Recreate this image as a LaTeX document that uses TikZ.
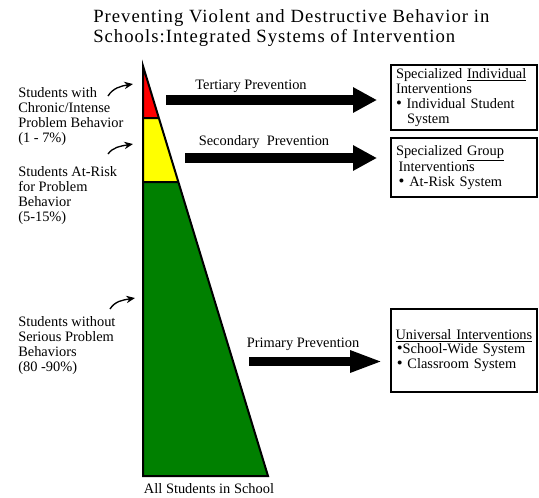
\documentclass[tikz,border=0pt]{standalone}
\usepackage{fontspec}
\setmainfont{Liberation Serif}
\newfontfamily\titlefont[LetterSpace=5.5]{Liberation Serif}
\usepackage{xcolor}
\usetikzlibrary{arrows.meta,calc}

\definecolor{tierred}{RGB}{255,0,0}
\definecolor{tieryellow}{RGB}{255,255,0}
\definecolor{tiergreen}{RGB}{0,128,0}
\newcommand{\bigbullet}{\smash{\fontsize{12.5}{11}\selectfont\textbullet}}

\begin{document}
\begin{tikzpicture}[x=0.75pt,y=-0.75pt,
    every node/.style={font=\fontsize{10.8}{11.2}\selectfont,inner sep=0pt},
    grouptext/.style={anchor=north west,align=left},
    pointer/.style={line width=1pt,-{Stealth[length=6.5pt,width=5.5pt]}},
    bigarrow/.style={line width=7.5pt},
    box/.style={draw,line width=1.5pt,align=left,text width=102pt,inner xsep=3.75pt,minimum width=109.5pt}]
    \useasboundingbox (0,0) rectangle (539,497);
    % title
    \node[anchor=north west,align=left,font=\titlefont\fontsize{14}{15}\selectfont] (title) at (93,9)
        {Preventing Violent and Destructive Behavior in\\Schools:Integrated Systems of Intervention};
    % triangle
    \coordinate (apex) at (143,66);
    \coordinate (baseL) at (143,476);
    \coordinate (baseR) at (268,476);
    \coordinate (redL) at (143,118);
    \coordinate (redR) at ($(apex)!0.127!(baseR)$);
    \coordinate (yelL) at (143,182);
    \coordinate (yelR) at ($(apex)!0.283!(baseR)$);
    \fill[tierred] (apex) -- (redR) -- (redL) -- cycle;
    \fill[tieryellow] (redL) -- (redR) -- (yelR) -- (yelL) -- cycle;
    \fill[tiergreen] (yelL) -- (yelR) -- (baseR) -- (baseL) -- cycle;
    \draw[line width=1.5pt] (apex) -- (baseR) -- (baseL) -- cycle;
    \draw[line width=1.5pt] (redL) -- (redR) (yelL) -- (yelR);
    \node (allstudents) at (209,489) {All Students in School};
    % groups of students
    \node[grouptext] (chronic) at (18,87) {Students with\\Chronic/Intense\\Problem Behavior\\(1 - 7\%)};
    \node[grouptext] (atrisk) at (18,166) {Students At-Risk\\for Problem\\Behavior\\(5-15\%)};
    \node[grouptext] (noproblem) at (18,316) {Students without\\Serious Problem\\Behaviors\\(80 -90\%)};
    % pointers
    \coordinate (chronicS) at (108,96);  \coordinate (chronicE) at (133,84);
    \coordinate (atriskS) at (108,154);  \coordinate (atriskE) at (133,144);
    \coordinate (noprobS) at (110,309);  \coordinate (noprobE) at (135,298);
    \draw[pointer] (chronicS) .. controls (113,88) and (121,86) .. (chronicE);
    \draw[pointer] (atriskS) .. controls (113,147) and (121,146) .. (atriskE);
    \draw[pointer] (noprobS) .. controls (115,301) and (123,300) .. (noprobE);
    % prevention arrows
    \coordinate (tertS) at (166,100);  \coordinate (tertE) at (377,100);
    \coordinate (secS) at (185,158);   \coordinate (secE) at (377,158);
    \coordinate (primS) at (249,361.5); \coordinate (primE) at (383,361.5);
    \draw[bigarrow,-{Triangle[length=18pt,width=18pt]}] (tertS) -- (tertE);
    \draw[bigarrow,-{Triangle[length=18pt,width=18pt]}] (secS) -- (secE);
    \draw[bigarrow,line width=6.75pt,-{Triangle[length=24.75pt,width=15pt]}] (primS) -- (primE);
    \node (tertlbl) at (251,86) {Tertiary Prevention};
    \node (seclbl) at (264,142) {Secondary\ \ Prevention};
    \node (primlbl) at (303,344) {Primary Prevention};
    % interventions
    \node[box,minimum height=48.75pt] (indiv) at (464,97.5)
        {Specialized \underline{Individual}\\Interventions\\\bigbullet\ Individual Student\\\phantom{\bigbullet}\hspace*{4pt}System};
    \node[box,minimum height=44.25pt] (group) at (464,167.5)
        {Specialized \underline{Group}\\\hspace*{2pt}Interventions\\\hspace*{2pt}\bigbullet\ At-Risk System};
    \node[box,minimum height=62.25pt] (universal) at (463.5,350.5)
        {\underline{Universal Interventions}\\\hspace*{1pt}\bigbullet School-Wide System\\\hspace*{1pt}\bigbullet\ Classroom System};
\end{tikzpicture}
\end{document}
